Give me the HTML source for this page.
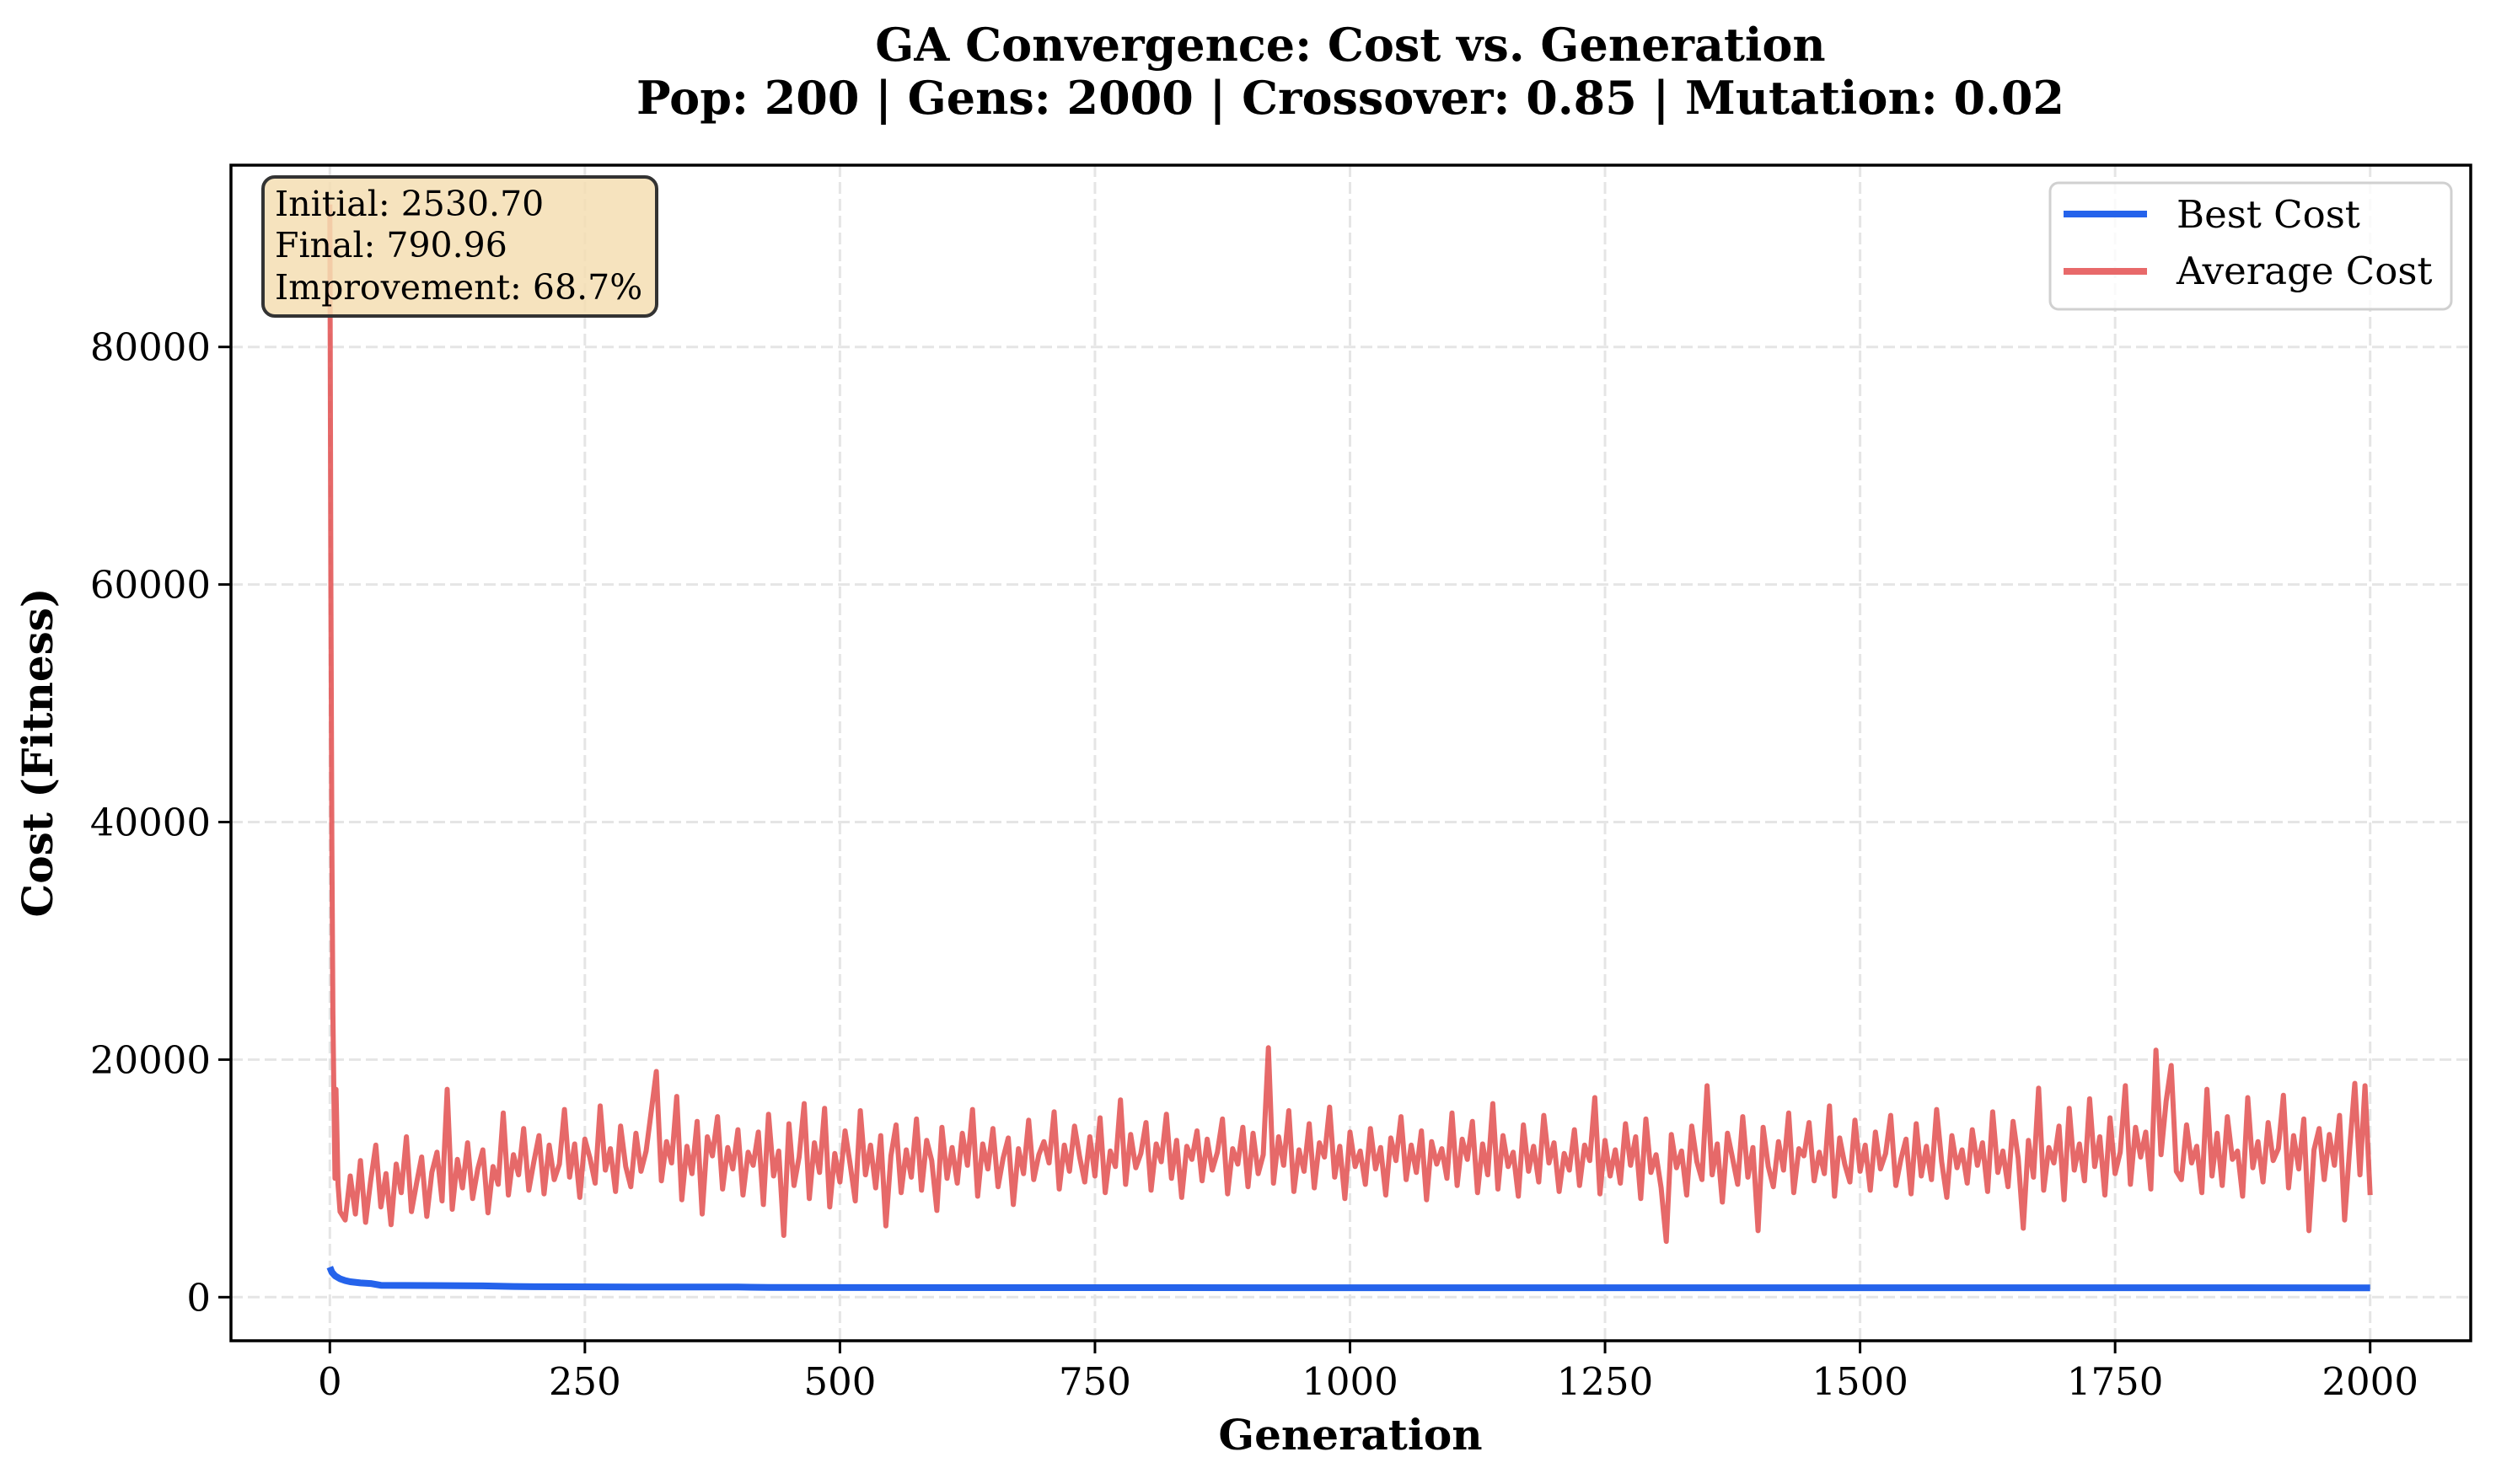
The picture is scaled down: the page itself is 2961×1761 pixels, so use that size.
<!DOCTYPE html>
<html><head><meta charset="utf-8"><style>
html,body{margin:0;padding:0;background:#fff;}
svg{display:block;font-family:"DejaVu Serif","Liberation Serif",serif;}
</style></head><body>
<svg id="chart" width="2961" height="1761" viewBox="0 0 2961 1761" xmlns="http://www.w3.org/2000/svg">
<defs><clipPath id="plotclip"><rect x="274" y="196" width="2657" height="1395"/></clipPath></defs>
<rect width="2961" height="1761" fill="#fff"/>
<text x="1602" y="72" text-anchor="middle" font-size="54" font-weight="bold">GA Convergence: Cost vs. Generation</text>
<text x="1602" y="135" text-anchor="middle" font-size="54" font-weight="bold">Pop: 200 | Gens: 2000 | Crossover: 0.85 | Mutation: 0.02</text>
<g id="grid"></g>
<g id="series" clip-path="url(#plotclip)"></g>
<rect x="274" y="196" width="2657" height="1395" fill="none" stroke="#000" stroke-width="3.5"/>
<g id="ticks"></g>
<text x="1602" y="1720" text-anchor="middle" font-size="50" font-weight="bold">Generation</text>
<text transform="translate(62,893) rotate(-90)" text-anchor="middle" font-size="50" font-weight="bold">Cost (Fitness)</text>
<g>
<rect x="312" y="210" width="467" height="165" rx="14" fill="#f5deb3" fill-opacity="0.85" stroke="#333" stroke-width="4"/>
<text x="326" y="256" font-size="41">Initial: 2530.70</text>
<text x="326" y="305" font-size="41">Final: 790.96</text>
<text x="326" y="355" font-size="41">Improvement: 68.7%</text>
</g>
<g>
<rect x="2432" y="217" width="476" height="150" rx="10" fill="#fff" fill-opacity="0.8" stroke="#d0d0d0" stroke-width="3"/>
<g>
<line x1="2448" y1="254" x2="2547" y2="254" stroke="#2563eb" stroke-width="8"/>
<text x="2582" y="270" font-size="45">Best Cost</text></g>
<g>
<line x1="2448" y1="322" x2="2547" y2="322" stroke="#e8696a" stroke-width="8"/>
<text x="2582" y="337" font-size="45">Average Cost</text></g>
</g>
</svg>
<script>
const xTicks=[0,250,500,750,1000,1250,1500,1750,2000];
const yTicks=[0,20000,40000,60000,80000];
const bestGens=[0,2,5,10,15,20,30,40,50,100,150,180,200,300,400,430,500,700,1000,1500,2000];
const bestCost=[2530,2100,1800,1550,1400,1300,1200,1150,1000,980,950,900,880,860,850,820,810,800,795,792,790.96];
const avgEarlyGens=[0,1,2,3,4,5,6,8,10];
const avgEarly=[92000,60000,38000,24000,17000,10000,17500,9500,7200];
const avgStart=15, avgStep=5;
const avgCost=[
6500,10200,7000,11500,6300,9800,12800,7600,10400,6100,11200,8800,13500,7200,9600,11800,6800,10500,12200,8100,
17500,7400,11600,9200,13000,8300,10800,12400,7100,11000,9500,15500,8600,12000,10300,14200,9000,11400,13600,8700,
12800,9900,11200,15800,10100,12900,8400,13300,11700,9600,16100,10700,12500,8900,14400,11000,9300,13800,10600,12300,
15600,19000,9800,13100,11300,16900,8200,12700,10400,14800,7000,13500,11900,15200,9100,12600,10800,14100,8600,12200,
11100,13900,7800,15400,10200,12300,5200,14600,9400,11800,16300,8300,13000,10500,15900,7600,12100,9700,14000,11200,
8100,15700,10300,12800,9200,13600,6000,11900,14500,8800,12400,10100,15000,9000,13200,11500,7300,14300,10000,12600,
9600,13800,11100,15800,8500,12900,10800,14200,9300,11700,13400,7800,12500,10400,14900,9900,12000,13100,11300,15600,
9100,12800,10600,14400,11800,9700,13500,10200,15100,8800,12300,11000,16600,9500,13700,10900,12100,14700,9000,12900,
11400,15400,10000,13200,8400,12700,11600,14000,9800,13300,10700,12200,15000,8700,12500,11200,14300,9300,13800,10400,
12000,21000,9600,13500,11100,15700,8900,12400,10600,14600,9200,13000,11800,16000,10100,12700,8300,13900,11000,12300,
9500,14200,10800,12600,8600,13400,11500,15200,9900,12800,10500,14000,8200,13100,11200,12500,10000,15500,9400,13300,
11600,14800,8800,12900,10300,16300,9100,13600,11000,12200,8500,14500,10600,12700,9700,15300,11300,13000,8900,12100,
10700,14100,9400,12800,11500,16800,8700,13200,10200,12400,9600,14600,11100,13500,8300,15000,10500,12000,9200,4700,
13700,10900,12300,8600,14400,11400,9900,17800,10300,12900,8000,13800,11700,9500,15200,10100,12600,5600,14300,11000,
9300,13100,10700,15500,8800,12500,11900,14700,9800,12200,10400,16100,8500,13400,11200,9700,14900,10600,12800,9000,
13900,10800,12100,15300,9400,11600,13300,8700,14600,10200,12700,9900,15800,11400,8400,13600,10900,12400,9600,14100,
11100,13000,8900,15600,10500,12300,9300,14800,11700,5800,13200,10100,17600,9000,12600,11300,14400,8200,15900,10700,
12900,9800,16700,11000,13500,8600,15100,10400,12200,17800,9500,14300,11800,13900,9100,20800,12000,16500,19500,10600,
9900,14500,11300,12700,8800,17500,10200,13800,9400,15200,11600,12300,8500,16800,10900,13100,9700,14700,11500,12500,
17000,9200,13600,10800,15000,5600,12400,14200,9900,13700,11100,15300,6500,12600,18000,10300,17800,8600
];
const NS='http://www.w3.org/2000/svg';
const X0=391.3, X1=2811.7, Y0=1539.3, Y80=411.7;
function xs(g){return X0+g*(X1-X0)/2000;}
function ys(v){return Y0-v*(Y0-Y80)/80000;}
function mk(tag,attrs,parent){const e=document.createElementNS(NS,tag);for(const k in attrs)e.setAttribute(k,attrs[k]);parent.appendChild(e);return e;}
const grid=document.getElementById('grid'), ticks=document.getElementById('ticks'), series=document.getElementById('series');
xTicks.forEach(t=>{
  const gl=mk('line',{x1:xs(t),x2:xs(t),y1:196,y2:1591,stroke:'#e5e5e5','stroke-width':3,'stroke-dasharray':'14 6'},grid);
  
  
  const tk=mk('line',{x1:xs(t),x2:xs(t),y1:1591,y2:1606,stroke:'#000','stroke-width':3},ticks);
  
  
  const lb=mk('text',{x:xs(t),y:1655,'text-anchor':'middle','font-size':45},ticks);
  lb.textContent=t;
  
  
});
yTicks.forEach(t=>{
  const gl=mk('line',{x1:274,x2:2931,y1:ys(t),y2:ys(t),stroke:'#e5e5e5','stroke-width':3,'stroke-dasharray':'14 6'},grid);
  
  
  const tk=mk('line',{x1:259,x2:274,y1:ys(t),y2:ys(t),stroke:'#000','stroke-width':3},ticks);
  
  
  const lb=mk('text',{x:250,y:ys(t)+16,'text-anchor':'end','font-size':45},ticks);
  lb.textContent=t;
  
  
});
let pts=[];
avgEarlyGens.forEach((g,i)=>pts.push(xs(g).toFixed(1)+','+ys(avgEarly[i]).toFixed(1)));
avgCost.forEach((v,i)=>pts.push(xs(avgStart+i*avgStep).toFixed(1)+','+ys(v).toFixed(1)));
const avgLine=mk('polyline',{points:pts.join(' '),fill:'none',stroke:'#e35454','stroke-opacity':0.88,'stroke-width':6,'stroke-linejoin':'round'},series);


const bp=bestGens.map((g,i)=>xs(g).toFixed(1)+','+ys(bestCost[i]).toFixed(1)).join(' ');
const bestLine=mk('polyline',{points:bp,fill:'none',stroke:'#2563eb','stroke-width':8,'stroke-linejoin':'round'},series);


</script>
</body></html>
